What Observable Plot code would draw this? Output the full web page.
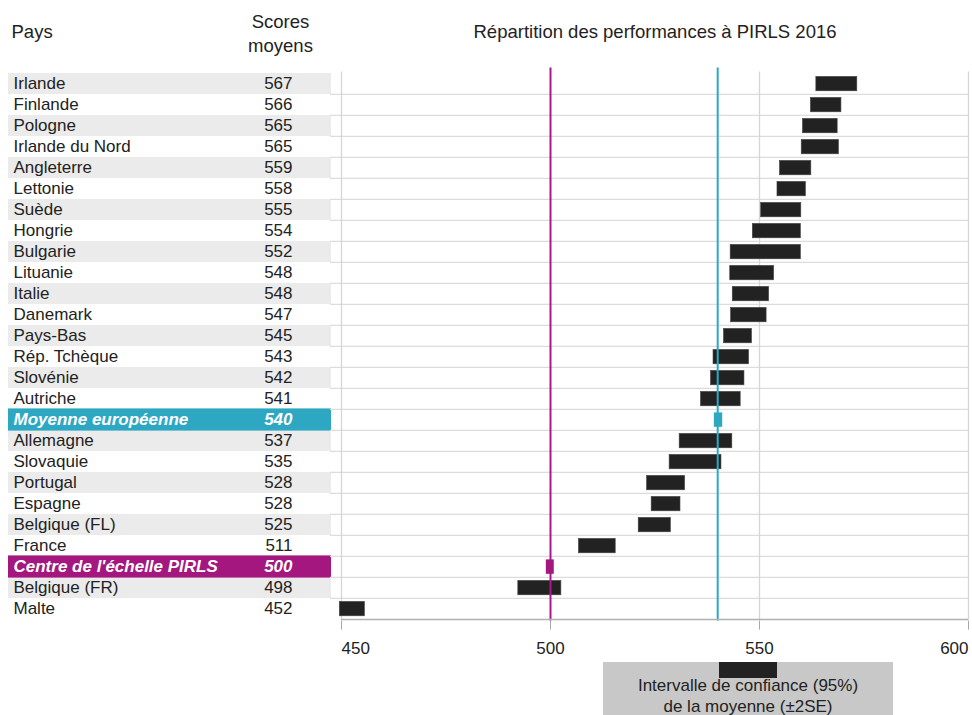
<!DOCTYPE html>
<html>
<head>
<meta charset="utf-8">
<script src="https://cdn.jsdelivr.net/npm/d3@7"></script>
<script src="https://cdn.jsdelivr.net/npm/@observablehq/plot@0.6"></script>
<style>
  body { margin: 0; background: #fff; font-family: "Liberation Sans", Arial, sans-serif; color: #222; }
  #root { position: relative; width: 972px; height: 715px; overflow: hidden; background: #fff; }
  #left, #right { position: absolute; top: 0; }
  #left { left: 0; }
  #right { left: 330px; }
  .legend-box { position: absolute; left: 603px; top: 662px; width: 290px; height: 53px; background: #c8c8c8; }
  .legend-swatch { position: absolute; left: 719px; top: 662px; width: 58px; height: 16px; background: #222; }
  .legend-text { position: absolute; left: 603px; top: 675px; width: 290px; text-align: center; font-size: 17px; line-height: 21px; color: #222; }
</style>
</head>
<body>
<div id="root">
  <div id="left"></div>
  <div id="right"></div>
  <div class="legend-box"></div>
  <div class="legend-swatch"></div>
  <div class="legend-text">Intervalle de confiance (95%)<br>de la moyenne (±2SE)</div>
</div>
<script>
// ---- Data ----
const countries = [
  "Irlande", "Finlande", "Pologne", "Irlande du Nord", "Angleterre", "Lettonie",
  "Suède", "Hongrie", "Bulgarie", "Lituanie", "Italie", "Danemark", "Pays-Bas",
  "Rép. Tchèque", "Slovénie", "Autriche", "Moyenne européenne", "Allemagne",
  "Slovaquie", "Portugal", "Espagne", "Belgique (FL)", "France",
  "Centre de l'échelle PIRLS", "Belgique (FR)", "Malte"
];
const scores = [567, 566, 565, 565, 559, 558, 555, 554, 552, 548, 548, 547, 545,
  543, 542, 541, 540, 537, 535, 528, 528, 525, 511, 500, 498, 452];
const ciLow = [563.6, 562.3, 560.4, 560.1, 554.9, 554.3, 550.4, 548.4, 543.1, 543.0,
  543.6, 543.2, 541.5, 539.0, 538.4, 536.0, 539.2, 530.9, 528.5, 523.1, 524.2,
  521.1, 506.8, 499.0, 492.3, 449.6];
const ciHigh = [573.4, 569.6, 568.7, 569.0, 562.4, 561.1, 560.0, 559.9, 559.9, 553.5,
  552.3, 551.7, 548.2, 547.5, 546.4, 545.5, 541.2, 543.5, 540.9, 532.2, 531.1,
  528.8, 515.6, 500.9, 502.6, 455.6];
const kinds = countries.map(c => c === "Moyenne européenne" ? "eu" : c === "Centre de l'échelle PIRLS" ? "center" : "country");
const tickValues = [450, 500, 550, 600];
const gridValues = [450, 550, 600];
const headerCountry = "Pays";
const headerScores = ["Scores", "moyens"];
const title = "Répartition des performances à PIRLS 2016";

// ---- Build rows ----
let sinceSpecial = 0;
const rows = countries.map((c, i) => {
  const kind = kinds[i];
  let stripe = false;
  if (kind === "country") { stripe = sinceSpecial % 2 === 0; sinceSpecial++; } else { sinceSpecial = 0; }
  return {country: c, score: scores[i], lo: ciLow[i], hi: ciHigh[i], kind, stripe};
});
const normal = rows.filter(d => d.kind === "country");
const euRow = rows.filter(d => d.kind === "eu");
const centerRow = rows.filter(d => d.kind === "center");

const TEAL = "#2ea7c3";
const MAGENTA = "#a3177f";
const LINE_TEAL = "#2aa9c9";
const LINE_MAG = "#ad158b";
const FONT = "Liberation Sans, Arial, sans-serif";

const H = 660, MT = 71.4, MB = 39.4;
const bw = (H - MT - MB) / countries.length;

// ---- Left table ----
const LW = 335;
const left = Plot.plot({
  width: LW, height: H, marginTop: MT, marginBottom: MB, marginLeft: 0, marginRight: 0,
  style: {fontFamily: FONT, background: "transparent"},
  x: {domain: [0, LW], range: [0, LW], axis: null},
  y: {domain: countries, axis: null, padding: 0},
  marks: [
    Plot.barX(rows.filter(d => d.stripe), {x1: 8, x2: 331, y: "country", fill: "#ebebeb"}),
    Plot.barX(euRow, {x1: 8, x2: 331, y: "country", fill: TEAL, insetTop: -0.6, insetBottom: -0.6}),
    Plot.barX(centerRow, {x1: 8, x2: 331, y: "country", fill: MAGENTA, insetTop: -0.6, insetBottom: -0.6}),
    Plot.text(normal, {x: 13, y: "country", text: "country", textAnchor: "start", fontSize: 17, fill: "#222"}),
    Plot.text(normal, {x: 292, y: "country", text: d => String(d.score), textAnchor: "end", fontSize: 17, fill: "#222"}),
    Plot.text(euRow.concat(centerRow), {x: 13, y: "country", text: "country", textAnchor: "start", fontSize: 17, fill: "#fff", fontWeight: "bold", fontStyle: "italic"}),
    Plot.text(euRow.concat(centerRow), {x: 292, y: "country", text: d => String(d.score), textAnchor: "end", fontSize: 17, fill: "#fff", fontWeight: "bold", fontStyle: "italic"}),
    Plot.text([headerCountry], {frameAnchor: "top-left", dx: 11, dy: 32 - MT, lineAnchor: "middle", textAnchor: "start", fontSize: 18.5, fill: "#222"}),
    Plot.text([headerScores[0]], {x: 280, frameAnchor: "top", dy: 22 - MT, lineAnchor: "middle", fontSize: 18.5, fill: "#222"}),
    Plot.text([headerScores[1]], {x: 280, frameAnchor: "top", dy: 46 - MT, lineAnchor: "middle", fontSize: 18.5, fill: "#222"})
  ]
});
document.getElementById("left").appendChild(left);

// ---- Right chart ----
const right = Plot.plot({
  width: 642, height: H, marginTop: MT, marginBottom: MB, marginLeft: 11, marginRight: 4,
  style: {fontFamily: FONT, background: "transparent", color: "#a8a8a8"},
  x: {domain: [450, 600], ticks: tickValues, tickSize: 9, tickFormat: () => "", line: false},
  y: {domain: countries, axis: null, padding: 0},
  marks: [
    Plot.ruleY(countries.slice(1), {dy: -bw / 2, stroke: "#dcdcdc", strokeWidth: 1.3, insetLeft: -11}),
    Plot.ruleX(gridValues, {stroke: "#d6d6d6", strokeWidth: 1.3}),
    Plot.barX(normal, {x1: "lo", x2: "hi", y: "country", fill: "#222", stroke: "#444", strokeWidth: 0.6, insetTop: 3.4, insetBottom: 3.2}),
    Plot.ruleX(centerRow, {x: "score", stroke: LINE_MAG, strokeWidth: 2, insetTop: -4}),
    Plot.ruleX(euRow, {x: "score", stroke: LINE_TEAL, strokeWidth: 2, insetTop: -4}),
    Plot.barX(euRow, {x1: "lo", x2: "hi", y: "country", fill: TEAL, insetTop: 3.4, insetBottom: 3.2}),
    Plot.barX(centerRow, {x1: "lo", x2: "hi", y: "country", fill: MAGENTA, insetTop: 3.4, insetBottom: 3.2}),
    Plot.ruleY(countries.slice(-1), {dy: bw / 2, stroke: "#b0b0b0", strokeWidth: 1.6}),
    Plot.text(tickValues.slice(0, 1), {x: d => d, frameAnchor: "bottom", dy: 27, lineAnchor: "middle", textAnchor: "start", fontSize: 17, fill: "#222"}),
    Plot.text(tickValues.slice(1, 3), {x: d => d, frameAnchor: "bottom", dy: 27, lineAnchor: "middle", textAnchor: "middle", fontSize: 17, fill: "#222"}),
    Plot.text(tickValues.slice(3), {x: d => d, frameAnchor: "bottom", dy: 27, lineAnchor: "middle", textAnchor: "end", fontSize: 17, fill: "#222"}),
    Plot.text([title], {frameAnchor: "top", dy: 32 - MT, lineAnchor: "middle", fontSize: 18.5, fill: "#222"})
  ]
});
document.getElementById("right").appendChild(right);
</script>
</body>
</html>
